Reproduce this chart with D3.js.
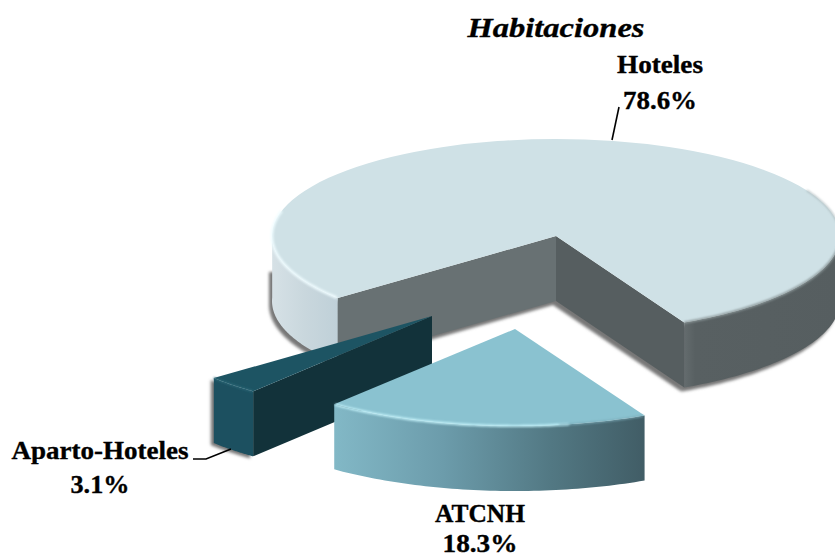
<!DOCTYPE html>
<html><head><meta charset="utf-8">
<script src="https://cdn.jsdelivr.net/npm/d3@7/dist/d3.min.js"></script>
<style>html,body{margin:0;padding:0;background:#fff}svg{display:block}
text{font-family:"Liberation Serif",serif;font-weight:bold;fill:#000;stroke:#000;stroke-width:.35px;text-anchor:middle}</style>
</head><body><div id="c"></div>
<script>
const categories = ["Hoteles","ATCNH","Aparto-Hoteles"];
const shares = [78.6,18.3,3.1];
const titleText = "Habitaciones";

const W=835,H=558, cx=556, cy=236, rx=284, ry=97, depth=65;
const rad=d=>d*Math.PI/180;
const svg=d3.select("#c").append("svg").attr("width",W).attr("height",H).attr("viewBox",[0,0,W,H]);
const defs=svg.append("defs");
function grad(id,stops,x1=0,x2=1){const g=defs.append("linearGradient").attr("id",id).attr("x1",x1).attr("x2",x2).attr("y1",0).attr("y2",0);
  stops.forEach(([o,c])=>g.append("stop").attr("offset",o).attr("stop-color",c));}
grad("gLeft",[[0,"#d6e1e6"],[.5,"#c9d7dd"],[1,"#bfd0d8"]]);
grad("gAtc",[[0,"#82b8c6"],[.35,"#6c9cab"],[.7,"#527883"],[1,"#415d66"]]);
grad("gRight",[[0,"#646c6e"],[.07,"#586062"],[1,"#565e60"]]);
const f1=defs.append("filter").attr("id","blur").attr("x","-20%").attr("y","-20%").attr("width","140%").attr("height","140%");
f1.append("feGaussianBlur").attr("stdDeviation",0.9);
const f2=defs.append("filter").attr("id","shadow").attr("x","-10%").attr("y","-10%").attr("width","120%").attr("height","120%");
f2.append("feGaussianBlur").attr("stdDeviation",1.5);
defs.append("clipPath").attr("id","shClip").append("rect").attr("x",0).attr("y",272).attr("width",W).attr("height",H);

const pie=d3.pie().sort(null).value(d=>d).startAngle(rad(230.2)).endAngle(rad(230.2+360));
const arcs=pie(shares);
const radii=[rx,287,rx];
const line=d3.line();
const steps=(a0,a1)=>d3.range(0,61).map(i=>a0+(a1-a0)*i/60);
function geom(o,R){
  const xS=d3.scaleLinear().domain([-1,1]).range([-R,R]);
  const yS=d3.scaleLinear().domain([-1,1]).range([-ry,ry]);
  const pt=(a,dy=0)=>[o[0]+xS(Math.sin(a)),o[1]-yS(Math.cos(a))+dy];
  return {
    top:d=>d3.arc().innerRadius(0).outerRadius(R)(d),
    tf:`translate(${o[0]},${o[1]}) scale(1,${ry/R})`,
    wall:(a0,a1)=>{const s=steps(a0,a1);return line([...s.map(a=>pt(a)),...s.slice().reverse().map(a=>pt(a,depth))])+"Z";},
    radial:a=>line([[o[0],o[1]],pt(a),pt(a,depth),[o[0],o[1]+depth]])+"Z",
    rim:(a0,a1)=>line(steps(a0,a1).map(a=>pt(a)))
  };
}
const offsets=[[cx,cy],[515,329],[432,316]];
const [hot,atc,apa]=arcs;

// Hoteles
const gH=svg.append("g"), H0=geom(offsets[0],radii[0]);
const hotStart=hot.startAngle, hotEnd=hot.endAngle;
const rightWall=H0.wall(rad(90)+2*Math.PI,hotEnd), leftWall=H0.wall(hotStart,rad(272));
const shG=gH.append("g").attr("filter","url(#shadow)").append("g").attr("clip-path","url(#shClip)").append("g").attr("transform","translate(-3,4)");
[rightWall,H0.wall(hotStart,rad(270)),H0.radial(hotStart),H0.radial(hotEnd)].forEach(d=>shG.append("path").attr("d",d).attr("fill","#777"));
gH.append("path").attr("d",rightWall).attr("fill","url(#gRight)");
gH.append("path").attr("d",leftWall).attr("fill","url(#gLeft)");
gH.append("path").attr("d",H0.radial(hotStart)).attr("fill","#687173");
gH.append("path").attr("d",H0.radial(hotEnd)).attr("fill","#565e60");
gH.append("path").attr("d",H0.top(hot)).attr("transform",H0.tf).attr("fill","#cfe1e6");
gH.append("path").attr("d",H0.rim(rad(62)+2*Math.PI,rad(90)+2*Math.PI)).attr("fill","none").attr("stroke","#aab7ba").attr("stroke-width",1.4).attr("filter","url(#blur)");
gH.append("path").attr("d",H0.rim(rad(90)+2*Math.PI,hotEnd)).attr("fill","none").attr("stroke","#8b9799").attr("stroke-width",2.2).attr("filter","url(#blur)");
gH.append("path").attr("d",H0.rim(hotStart+.005,rad(285))).attr("fill","none").attr("stroke","#effcff").attr("stroke-width",2.6).attr("filter","url(#blur)");

// Aparto-Hoteles
const A0=geom(offsets[2],radii[2]), gA=svg.append("g");
const shA=gA.append("g").attr("filter","url(#shadow)").attr("transform","translate(-3,2)");
shA.append("path").attr("d",A0.wall(apa.startAngle,apa.endAngle)).attr("fill","#777");
gA.append("path").attr("d",A0.radial(apa.startAngle)).attr("fill","#12323a");
gA.append("path").attr("d",A0.wall(apa.startAngle,apa.endAngle)).attr("fill","#1c5060");
gA.append("path").attr("d",A0.top(apa)).attr("transform",A0.tf).attr("fill","#1d5463");
gA.append("path").attr("d",A0.rim(apa.startAngle,apa.endAngle)).attr("fill","none").attr("stroke","#2f6b7a").attr("stroke-width",1.6).attr("filter","url(#blur)");

// ATCNH
const C0=geom(offsets[1],radii[1]), gC=svg.append("g");
gC.append("path").attr("d",C0.wall(atc.startAngle,atc.endAngle)).attr("fill","url(#gAtc)");
gC.append("path").attr("d",C0.top(atc)).attr("transform",C0.tf).attr("fill","#8ac2d0");
gC.append("path").attr("d",C0.rim(atc.startAngle+rad(16),atc.endAngle-.005)).attr("fill","none").attr("stroke","#c4f3fb").attr("stroke-width",2.2).attr("filter","url(#blur)");
gC.append("path").attr("d",C0.rim(atc.startAngle+.005,atc.startAngle+rad(18))).attr("fill","none").attr("stroke","#7bacb9").attr("stroke-width",1.6).attr("filter","url(#blur)");

// leader lines
const leaders=[[[619,107],[612,140]],[[193,459],[206,459],[231,449]]];
leaders.forEach(l=>svg.append("path").attr("d",line(l)).attr("fill","none").attr("stroke","#000").attr("stroke-width",1.6));

// text
const fs=26;
const label=(x,y,t,w,size)=>svg.append("text").attr("x",x).attr("y",y).attr("font-size",size).attr("textLength",w).attr("lengthAdjust","spacingAndGlyphs").text(t);
label(556,37,titleText,177,28).attr("font-style","italic");
const labelPos=[[660,73,109],[480,522,552],[100,459,493]];
const nameW=[86,90,177], valW=[74,75,59];
const valSize=[26,25,26];
categories.forEach((c,i)=>{const [x,y1,y2]=labelPos[i];
  label(x,y1,c,nameW[i],fs);
  label(x,y2,shares[i].toFixed(1)+"%",valW[i],valSize[i]);
});
</script></body></html>
